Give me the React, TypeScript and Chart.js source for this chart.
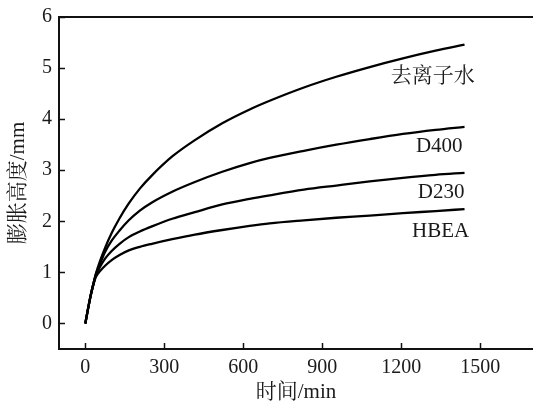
import React, { useEffect, useRef } from "react";
import { Chart, registerables } from "chart.js";

Chart.register(...registerables);

// ---- data ----
const timeMin = [0, 10, 20, 30, 40, 55, 75, 100, 130, 165, 207, 253, 330, 416, 520, 624, 700, 830, 953, 1080, 1206, 1330, 1440];
const deionizedWater = [0, 0.28, 0.54, 0.76, 0.97, 1.21, 1.48, 1.77, 2.06, 2.35, 2.64, 2.9, 3.27, 3.59, 3.92, 4.19, 4.36, 4.62, 4.83, 5.02, 5.19, 5.34, 5.46];
const d400 = [0, 0.28, 0.54, 0.76, 0.96, 1.16, 1.4, 1.62, 1.82, 2.02, 2.21, 2.37, 2.58, 2.77, 2.97, 3.14, 3.24, 3.38, 3.5, 3.61, 3.71, 3.79, 3.85];
const d230 = [0, 0.28, 0.54, 0.76, 0.94, 1.1, 1.27, 1.42, 1.56, 1.69, 1.8, 1.9, 2.05, 2.18, 2.33, 2.44, 2.51, 2.62, 2.7, 2.78, 2.85, 2.91, 2.95];
const hbea = [0, 0.28, 0.54, 0.75, 0.91, 1.02, 1.13, 1.24, 1.34, 1.43, 1.5, 1.56, 1.65, 1.74, 1.83, 1.91, 1.96, 2.02, 2.07, 2.11, 2.16, 2.2, 2.24];

const seriesNames = ["去离子水", "D400", "D230", "HBEA"];
const seriesValues = [deionizedWater, d400, d230, hbea];
// label anchor positions (data units)
const labelTime = [1319, 1344, 1351, 1349];
const labelHeight = [4.84, 3.47, 2.56, 1.81];

const xTicks = [0, 300, 600, 900, 1200, 1500];
const yTicks = [0, 1, 2, 3, 4, 5, 6];
const xTitle = "时间/min";
const yTitle = "膨胀高度/mm";

const FONT = '"Liberation Serif", "Noto Serif CJK SC", "Noto Sans CJK SC", serif';
const INK = "#1a1a1a";

const annotPlugin = {
  id: "annot",
  afterDatasetsDraw(chart: any) {
    const { ctx, chartArea, scales } = chart;
    const x = scales.x;
    const y = scales.y;
    ctx.save();
    ctx.strokeStyle = "#111";
    ctx.lineWidth = 2;
    ctx.beginPath();
    ctx.moveTo(chartArea.left, chartArea.top);
    ctx.lineTo(chartArea.right, chartArea.top);
    ctx.stroke();
    ctx.fillStyle = INK;
    ctx.font = `21px ${FONT}`;
    ctx.textAlign = "center";
    ctx.textBaseline = "middle";
    seriesNames.forEach((n, i) => {
      ctx.fillText(n, x.getPixelForValue(labelTime[i]), y.getPixelForValue(labelHeight[i]));
    });
    ctx.restore();
  },
};

export default function App() {
  const ref = useRef<HTMLCanvasElement | null>(null);

  useEffect(() => {
    if (!ref.current) return;
    const chart = new Chart(ref.current, {
      type: "line",
      data: {
        datasets: seriesNames.map((name, i) => ({
          label: name,
          data: timeMin.map((t, j) => ({ x: t, y: seriesValues[i][j] })),
          borderColor: "#000",
          borderWidth: 2.3,
          pointRadius: 0,
          fill: false,
          cubicInterpolationMode: "monotone" as const,
        })),
      },
      options: {
        animation: false,
        responsive: false,
        devicePixelRatio: 1,
        layout: { padding: { top: 17, right: 0, bottom: 0, left: 0 } },
        plugins: { legend: { display: false }, tooltip: { enabled: false } },
        scales: {
          x: {
            type: "linear",
            min: -100,
            max: 1700,
            afterBuildTicks: (s: any) => {
              s.ticks = xTicks.map((v) => ({ value: v }));
            },
            afterFit: (s: any) => {
              s.height = 52;
              s.paddingLeft = 0;
              s.paddingRight = 0;
            },
            grid: { display: true, drawOnChartArea: false, drawTicks: true, tickLength: -6, tickColor: "#111", tickWidth: 1.5 },
            border: { display: true, color: "#111", width: 2 },
            ticks: { padding: 13, color: INK, font: { family: FONT, size: 20 }, callback: (v: any) => String(v) },
            title: {
              display: true,
              text: xTitle,
              color: INK,
              font: { family: FONT, size: 21, lineHeight: 1 },
              padding: { top: 0, bottom: -2 },
            },
          },
          y: {
            type: "linear",
            min: -0.5,
            max: 6,
            afterBuildTicks: (s: any) => {
              s.ticks = yTicks.map((v) => ({ value: v }));
            },
            afterFit: (s: any) => {
              s.width = 59;
              s.paddingTop = 0;
              s.paddingBottom = 0;
            },
            grid: { display: true, drawOnChartArea: false, drawTicks: true, tickLength: -6, tickColor: "#111", tickWidth: 1.5 },
            border: { display: true, color: "#111", width: 2 },
            ticks: { padding: 13, color: INK, font: { family: FONT, size: 20 }, callback: (v: any) => String(v) },
            title: {
              display: true,
              text: yTitle,
              color: INK,
              font: { family: FONT, size: 21, lineHeight: 1 },
              padding: { top: 7.5, bottom: 0 },
            },
          },
        },
      },
      plugins: [annotPlugin],
    });
    return () => chart.destroy();
  }, []);

  return (
    <div style={{ position: "fixed", left: 0, top: 0, width: 533, height: 401, background: "#fff" }}>
      <canvas ref={ref} width={533} height={401} />
    </div>
  );
}
